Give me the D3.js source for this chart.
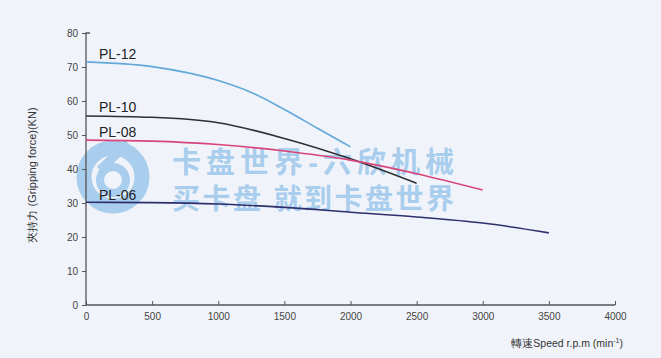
<!DOCTYPE html>
<html>
<head>
<meta charset="utf-8">
<script src="https://d3js.org/d3.v7.min.js"></script>
<style>
  body { margin: 0; background: #f0f4fa; position: relative; }
  svg { display: block; position: relative; z-index: 1; font-family: "Liberation Sans", Arial, sans-serif; }
  .wm { position: absolute; z-index: 0; font-family: "Liberation Sans", "Noto Sans CJK SC"; font-weight: bold;
        color: #6faee3; opacity: 0.55; white-space: pre; }
</style>
</head>
<body>
<svg width="661" height="358"></svg>
<script>
// speed values (r.p.m) and gripping force (KN)
const pl12Speed = [0, 500, 1000, 1250, 1500, 1750, 2000];
const pl12Force = [71.5, 70.1, 66.0, 62.5, 57.5, 52.0, 46.5];

const pl10Speed = [0, 500, 1000, 1500, 2000, 2500];
const pl10Force = [55.6, 55.2, 53.6, 49.0, 43.0, 35.8];

const pl08Speed = [0, 500, 1000, 1500, 2000, 2500, 3000];
const pl08Force = [48.5, 48.2, 47.2, 45.3, 42.6, 38.6, 33.8];

const pl06Speed = [0, 500, 1000, 1500, 2000, 2500, 3000, 3500];
const pl06Force = [30.2, 30.1, 29.7, 28.7, 27.3, 25.9, 24.1, 21.2];

const xTicks = [0, 500, 1000, 1500, 2000, 2500, 3000, 3500, 4000];
const yTicks = [0, 10, 20, 30, 40, 50, 60, 70, 80];

const watermarkLines = ["卡盘世界-六欣机械", "买卡盘 就到卡盘世界"];

const series = [
  {name: "PL-12", speed: pl12Speed, force: pl12Force, color: "#62a8d8", labelY: 59},
  {name: "PL-10", speed: pl10Speed, force: pl10Force, color: "#2f2f33", labelY: 112},
  {name: "PL-08", speed: pl08Speed, force: pl08Force, color: "#d8457a", labelY: 137},
  {name: "PL-06", speed: pl06Speed, force: pl06Force, color: "#2c2f6c", labelY: 200}
];

const svg = d3.select("svg");

const x = d3.scaleLinear().domain([0, 4000]).range([86, 615]);
const y = d3.scaleLinear().domain([0, 80]).range([305, 33]);

// watermark: logo in the svg, text as html lines behind it
const wm = svg.append("g").attr("opacity", 0.55);
wm.append("circle").attr("cx", 113).attr("cy", 177).attr("r", 29)
  .attr("fill", "none").attr("stroke", "#6faee3").attr("stroke-width", 15);
wm.append("circle").attr("cx", 113).attr("cy", 180).attr("r", 13)
  .attr("fill", "none").attr("stroke", "#6faee3").attr("stroke-width", 8);
wm.append("path").attr("d", "M100,170 L128,143").attr("stroke", "#6faee3").attr("stroke-width", 9);

const wmTops = [148, 185];
const wmSizes = [29, 28];
watermarkLines.forEach((t, i) => {
  const div = d3.select("body").append("div")
    .attr("class", "wm")
    .style("left", "172px")
    .style("top", wmTops[i] + "px")
    .style("font-size", wmSizes[i] + "px")
    .style("line-height", "30px")
    .style("height", "30px")
    .text(t);
  const w = div.node().getBoundingClientRect().width;
  const n = Array.from(t).length;
  div.style("letter-spacing", ((282 - w) / (n - 1)) + "px");
});

// axes
const xAxis = d3.axisBottom(x).tickValues(xTicks).tickFormat(d3.format("d"))
  .tickSize(-4).tickPadding(8);
const yAxis = d3.axisLeft(y).tickValues(yTicks).tickFormat(d3.format("d"))
  .tickSize(4).tickPadding(4);

const gx = svg.append("g").attr("transform", "translate(0,305)").call(xAxis);
const gy = svg.append("g").attr("transform", "translate(86,0)").call(yAxis);

[gx, gy].forEach(g => {
  g.select(".domain").attr("stroke", "#555").attr("stroke-width", 1.3);
  g.selectAll(".tick line").attr("stroke", "#555");
  g.selectAll(".tick text").attr("fill", "#444").attr("font-size", 10)
    .attr("font-family", "Liberation Sans, Arial, sans-serif");
});
gx.select(".domain").attr("d", "M86,0H615");
gy.select(".domain").attr("d", "M0,305V33H4");

// curves
const line = d3.line()
  .x(d => x(d[0]))
  .y(d => y(d[1]))
  .curve(d3.curveMonotoneX);

series.forEach(s => {
  const pts = s.speed.map((v, i) => [v, s.force[i]]);
  svg.append("path").datum(pts)
    .attr("fill", "none")
    .attr("stroke", s.color)
    .attr("stroke-width", 1.6)
    .attr("d", line);
  svg.append("text")
    .attr("x", 99).attr("y", s.labelY)
    .attr("font-size", 14).attr("fill", "#222")
    .text(s.name);
});

// axis titles
svg.append("text")
  .attr("transform", "translate(36,175) rotate(-90)")
  .attr("text-anchor", "middle")
  .attr("font-size", 11).attr("fill", "#333")
  .text("夾持力 (Gripping force)(KN)");

const xt = svg.append("text")
  .attr("x", 623).attr("y", 347)
  .attr("text-anchor", "end")
  .attr("font-size", 10.5).attr("fill", "#333");
xt.append("tspan").text("轉速Speed r.p.m (min");
xt.append("tspan").attr("font-size", 7).attr("dy", -4).text("-1");
xt.append("tspan").attr("dy", 4).text(")");
</script>
</body>
</html>
